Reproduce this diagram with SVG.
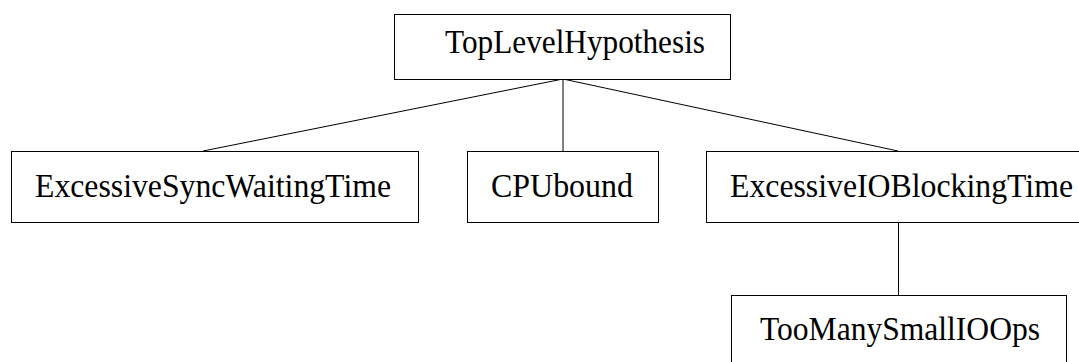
<svg xmlns="http://www.w3.org/2000/svg" width="1079" height="362" viewBox="0 0 1079 362">
<style>
rect{fill:#fff;stroke:#000;stroke-width:1}
text{font-family:"Liberation Serif","Times New Roman",serif;font-size:33px;fill:#000}
.c line{stroke:#000;stroke-width:1}
</style>
<rect x="0" y="0" width="1079" height="362" style="stroke:none"/>
<g class="c">
<line x1="563" y1="79" x2="203" y2="151"/>
<line x1="563" y1="79" x2="563" y2="151"/>
<line x1="563" y1="79" x2="898" y2="151"/>
<line x1="898.5" y1="223" x2="898.5" y2="295"/>
</g>
<g id="top"><rect x="394.5" y="14.5" width="336" height="65"/><text x="445" y="53" textLength="260" lengthAdjust="spacingAndGlyphs">TopLevelHypothesis</text></g>
<g id="eswt"><rect x="11.5" y="151.5" width="407" height="71"/><text x="35" y="197" textLength="356" lengthAdjust="spacingAndGlyphs">ExcessiveSyncWaitingTime</text></g>
<g id="cpu"><rect x="467.5" y="151.5" width="191" height="71"/><text x="491" y="197" textLength="142" lengthAdjust="spacingAndGlyphs">CPUbound</text></g>
<g id="eiobt"><rect x="706.5" y="151.5" width="384" height="71"/><text x="730" y="197" textLength="343" lengthAdjust="spacingAndGlyphs">ExcessiveIOBlockingTime</text></g>
<g id="tmsio"><rect x="731.5" y="295.5" width="335" height="72"/><text x="760" y="340" textLength="280" lengthAdjust="spacingAndGlyphs">TooManySmallIOOps</text></g>
</svg>
